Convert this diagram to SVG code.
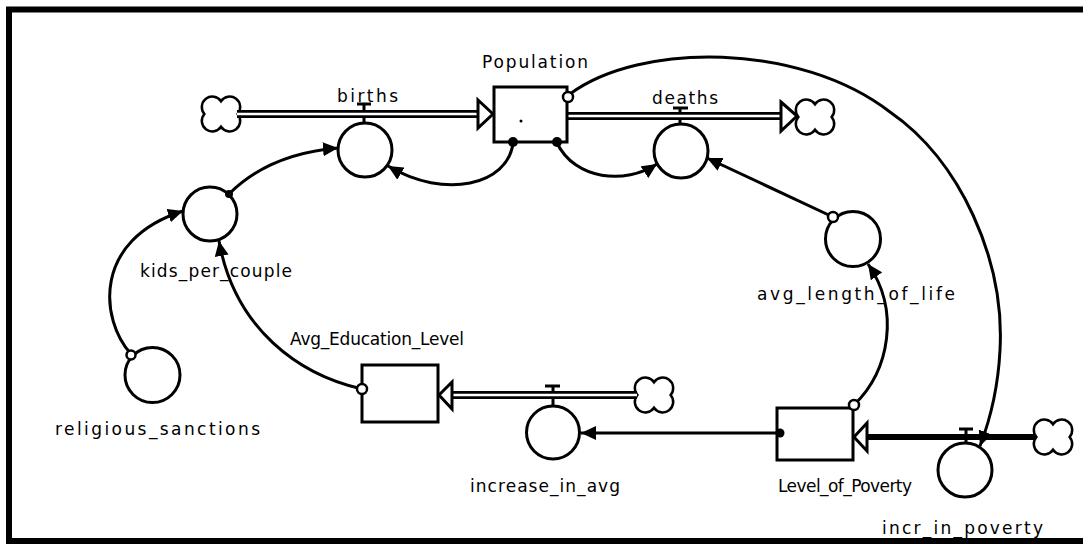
<svg xmlns="http://www.w3.org/2000/svg" xmlns:xlink="http://www.w3.org/1999/xlink" width="1083" height="544" viewBox="0 0 1083 544">
  <style>
    .frame { fill: none; stroke: #000; stroke-width: 6; }
    .stock { fill: #fff; stroke: #000; stroke-width: 3; }
    .aux { fill: #fff; stroke: #000; stroke-width: 3; }
    .cloud { fill: #fff; stroke: #000; stroke-width: 2.5; }
    .pipe-out { fill: none; stroke: #000; stroke-width: 8; }
    .pipe-in { fill: none; stroke: #fff; stroke-width: 2.5; }
    .pipe-solid { fill: none; stroke: #000; stroke-width: 6; }
    .flowhead { fill: #fff; stroke: #000; stroke-width: 3; stroke-linejoin: miter; }
    .valve { fill: none; stroke: #000; stroke-width: 3; }
    .link { fill: none; stroke: #000; stroke-width: 3; marker-end: url(#arrow); }
    .dot { fill: #000; }
    .ring { fill: #fff; stroke: #000; stroke-width: 2.5; }
    .label { font-family: "DejaVu Sans", "Liberation Sans", sans-serif; font-size: 17px; fill: #000; }
  </style>
  <defs>
    <marker id="arrow" markerUnits="userSpaceOnUse" markerWidth="16" markerHeight="14" refX="15" refY="7" orient="auto">
      <path d="M0,0 L15,7 L0,14 Z" fill="#000"/>
    </marker>
    <!-- four-lobed source/sink cloud, centred on the origin -->
    <path id="cloud" class="cloud" d="M0,-12.8 A10.5,10.5 0 1 1 16.6,0 A10.5,10.5 0 1 1 0,12.8 A10.5,10.5 0 1 1 -16.6,0 A10.5,10.5 0 1 1 0,-12.8 Z"/>
  </defs>

  <rect width="1083" height="544" fill="#fff"/>
  <path class="frame" d="M1090,9.5 L9,9.5 L9,541 L1090,541"/>

  <!-- flows: valves first, pipes drawn over their stems -->
  <g id="flows">
    <g id="flow-births">
      <path class="valve" d="M357,104 H371 M364,104 V123"/>
      <use xlink:href="#cloud" transform="translate(221,114)"/>
      <path class="pipe-out" d="M237,114 H478"/>
      <path class="pipe-in" d="M237,114 H480"/>
      <path class="flowhead" d="M478,100 L493,114 L478,128 Z"/>
    </g>
    <g id="flow-deaths">
      <path class="valve" d="M673,108 H688 M680,108 V124"/>
      <path class="pipe-out" d="M568,116 H781"/>
      <path class="pipe-in" d="M568,116 H783"/>
      <path class="flowhead" d="M781,102 L797,116 L781,131 Z"/>
      <use xlink:href="#cloud" transform="translate(815,117)"/>
    </g>
    <g id="flow-increase-in-avg">
      <path class="valve" d="M545,386 H560 M553,386 V406"/>
      <use xlink:href="#cloud" transform="translate(654,395)"/>
      <path class="pipe-out" d="M637,395 H451"/>
      <path class="pipe-in" d="M637,395 H449"/>
      <path class="flowhead" d="M452,382 L439,395 L452,409 Z"/>
    </g>
    <g id="flow-incr-in-poverty">
      <path class="valve" d="M959,429 H973 M966,429 V443"/>
      <path class="pipe-solid" d="M1036,437 H866"/>
      <path class="flowhead" d="M867,423 L854,437 L867,451 Z"/>
      <use xlink:href="#cloud" transform="translate(1053,437)"/>
    </g>
  </g>

  <!-- stocks -->
  <g id="population">
    <rect class="stock" x="494" y="87" width="73" height="55"/>
    <circle cx="521" cy="121" r="1.5" fill="#000"/>
    <text class="label" x="482" y="68" textLength="106" lengthAdjust="spacing">Population</text>
  </g>
  <g id="avg-education-level">
    <rect class="stock" x="362" y="365" width="76" height="57"/>
    <text class="label" x="290" y="345" textLength="174" lengthAdjust="spacing">Avg_Education_Level</text>
  </g>
  <g id="level-of-poverty">
    <rect class="stock" x="777" y="408" width="76" height="52"/>
    <text class="label" x="778" y="492" textLength="134" lengthAdjust="spacing">Level_of_Poverty</text>
  </g>

  <!-- rates and auxiliaries -->
  <g id="births">
    <circle class="aux" cx="365" cy="150" r="27"/>
    <text class="label" x="337" y="102" textLength="61" lengthAdjust="spacing">births</text>
  </g>
  <g id="deaths">
    <circle class="aux" cx="681" cy="151" r="27"/>
    <text class="label" x="652" y="104" textLength="66" lengthAdjust="spacing">deaths</text>
  </g>
  <g id="kids-per-couple">
    <circle class="aux" cx="210" cy="214" r="27"/>
    <text class="label" x="140" y="277" textLength="152" lengthAdjust="spacing">kids_per_couple</text>
  </g>
  <g id="religious-sanctions">
    <circle class="aux" cx="152.5" cy="375" r="27.5"/>
    <text class="label" x="55" y="435" textLength="205" lengthAdjust="spacing">religious_sanctions</text>
  </g>
  <g id="increase-in-avg">
    <circle class="aux" cx="553" cy="432.5" r="26.5"/>
    <text class="label" x="470" y="492" textLength="150" lengthAdjust="spacing">increase_in_avg</text>
  </g>
  <g id="incr-in-poverty">
    <circle class="aux" cx="965" cy="470" r="27"/>
    <text class="label" x="882" y="534" textLength="161" lengthAdjust="spacing">incr_in_poverty</text>
  </g>
  <g id="avg-length-of-life">
    <circle class="aux" cx="853" cy="239" r="27.5"/>
    <text class="label" x="757" y="300" textLength="198" lengthAdjust="spacing">avg_length_of_life</text>
  </g>

  <!-- information links -->
  <g id="connectors">
    <path class="link" d="M513,143 C508,185 445,200 388,166"/>
    <path class="link" d="M557,143 C575,180 625,185 657,164"/>
    <path class="link" d="M570,94 C640,42 800,42 890,112 C960,160 1005,260 1000,350 C998,390 990,420 980,446"/>
    <path class="link" d="M229,194 C255,168 290,152 338,148"/>
    <path class="link" d="M131,354 C100,320 92,240 183,211"/>
    <path class="link" d="M362,389 C300,375 235,330 219,241"/>
    <path class="link" d="M780,433 L581,433"/>
    <path class="link" d="M854,405 C890,370 900,310 868,264"/>
    <path class="link" d="M833,217 L707,158"/>
    <!-- link origins -->
    <circle class="ring" cx="568" cy="97" r="5"/>
    <circle class="dot" cx="513" cy="142" r="5"/>
    <circle class="dot" cx="557" cy="142" r="5"/>
    <circle class="dot" cx="229" cy="194" r="4"/>
    <circle class="ring" cx="131" cy="355" r="4.5"/>
    <circle class="ring" cx="362" cy="389" r="5"/>
    <circle class="dot" cx="780" cy="433" r="4.5"/>
    <circle class="ring" cx="854" cy="405" r="5"/>
    <circle class="ring" cx="833" cy="217" r="5"/>
  </g>
</svg>
